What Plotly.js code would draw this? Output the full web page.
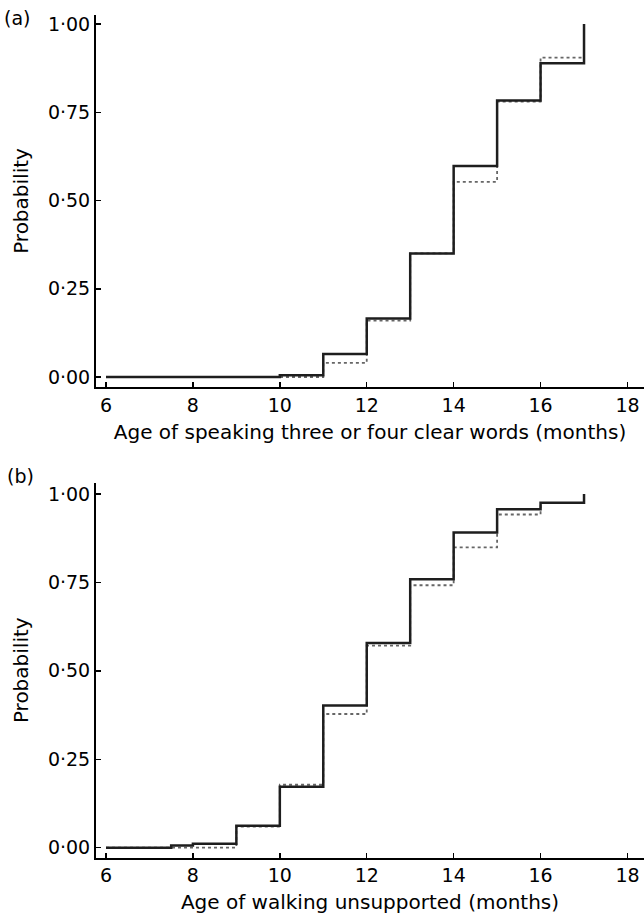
<!DOCTYPE html>
<html>
<head>
<meta charset="utf-8">
<script src="https://cdn.plot.ly/plotly-3.0.1.min.js"></script>
<style>html,body{margin:0;padding:0;background:#fff;}#chart{width:644px;height:918px;}</style>
</head>
<body>
<div id="chart"></div>
<script>
// Panel (a): age of speaking three or four clear words
const speakAges = [6, 10, 11, 12, 13, 14, 15, 16, 17];
const speakSolid = [0, 0.005, 0.065, 0.166, 0.35, 0.598, 0.783, 0.889, 1.0];
const speakDotAges = [6, 11, 12, 13, 14, 15, 16, 17];
const speakDotted = [0, 0.04, 0.16, 0.35, 0.553, 0.78, 0.905, 1.0];

// Panel (b): age of walking unsupported
const walkAges = [6, 7.5, 8, 9, 10, 11, 12, 13, 14, 15, 16, 17];
const walkSolid = [0, 0.006, 0.011, 0.062, 0.172, 0.402, 0.579, 0.759, 0.891, 0.957, 0.975, 1.0];
const walkDotAges = [6, 9, 10, 11, 12, 13, 14, 15, 16, 17];
const walkDotted = [0, 0.06, 0.178, 0.378, 0.571, 0.742, 0.849, 0.942, 0.975, 1.0];

const xTickVals = [6, 8, 10, 12, 14, 16, 18];
const yTickVals = [0, 0.25, 0.5, 0.75, 1.0];
const yTickText = ['0·00', '0·25', '0·50', '0·75', '1·00'];
const panelLabels = ['(a)', '(b)'];
const xTitles = ['Age of speaking three or four clear words (months)', 'Age of walking unsupported (months)'];
const yTitle = 'Probability';

const FONT = 'DejaVu Sans, sans-serif';
const W = 644, H = 918;

const solidLine = {color: '#1e1e1e', width: 2.5, shape: 'hv'};
const dotLine = {color: '#666', width: 1.8, shape: 'hv', dash: 'dot'};

const traces = [
  {x: speakDotAges, y: speakDotted, mode: 'lines', line: dotLine, xaxis: 'x', yaxis: 'y', hoverinfo: 'skip'},
  {x: speakAges, y: speakSolid, mode: 'lines', line: solidLine, xaxis: 'x', yaxis: 'y'},
  {x: walkDotAges, y: walkDotted, mode: 'lines', line: dotLine, xaxis: 'x2', yaxis: 'y2', hoverinfo: 'skip'},
  {x: walkAges, y: walkSolid, mode: 'lines', line: solidLine, xaxis: 'x2', yaxis: 'y2'}
];

function xAxis(title, anchor) {
  return {
    domain: [96 / W, 1], range: [5.77, 18.38], anchor: anchor,
    tickvals: xTickVals, ticks: 'inside', ticklen: 5, tickwidth: 1.5, tickcolor: '#000',
    showline: true, linecolor: '#000', linewidth: 2, showgrid: false, zeroline: false,
    tickfont: {family: FONT, size: 19, color: '#000'},
    title: {text: title, font: {family: FONT, size: 20, color: '#000'}, standoff: 10},
    automargin: false, fixedrange: true
  };
}
function yAxis(domain, range, anchor) {
  return {
    domain: domain, range: range, anchor: anchor,
    tickvals: yTickVals, ticktext: yTickText, ticks: 'inside', ticklen: 5, tickwidth: 1.5, tickcolor: '#000',
    showline: true, linecolor: '#000', linewidth: 2, showgrid: false, zeroline: false,
    tickfont: {family: FONT, size: 19, color: '#000'},
    title: {text: yTitle, font: {family: FONT, size: 20, color: '#000'}, standoff: 14},
    automargin: false, fixedrange: true
  };
}

const layout = {
  width: W, height: H, margin: {l: 0, r: 0, t: 0, b: 0},
  paper_bgcolor: '#fff', plot_bgcolor: '#fff', showlegend: false,
  font: {family: FONT, size: 19, color: '#000'},
  xaxis: xAxis(xTitles[0], 'y'),
  yaxis: yAxis([1 - 387 / H, 1 - 15 / H], [-0.0283, 1.0255], 'x'),
  xaxis2: xAxis(xTitles[1], 'y2'),
  yaxis2: yAxis([1 - 857.5 / H, 1 - 483 / H], [-0.0277, 1.031], 'x2'),
  annotations: [
    {text: panelLabels[0], xref: 'paper', yref: 'paper', x: 17 / W, y: 1 - 18 / H, xanchor: 'center', yanchor: 'middle', showarrow: false, font: {family: FONT, size: 19, color: '#000'}},
    {text: panelLabels[1], xref: 'paper', yref: 'paper', x: 20 / W, y: 1 - 476 / H, xanchor: 'center', yanchor: 'middle', showarrow: false, font: {family: FONT, size: 19, color: '#000'}}
  ]
};

Plotly.newPlot('chart', traces, layout, {staticPlot: true, displayModeBar: false});
</script>
</body>
</html>
